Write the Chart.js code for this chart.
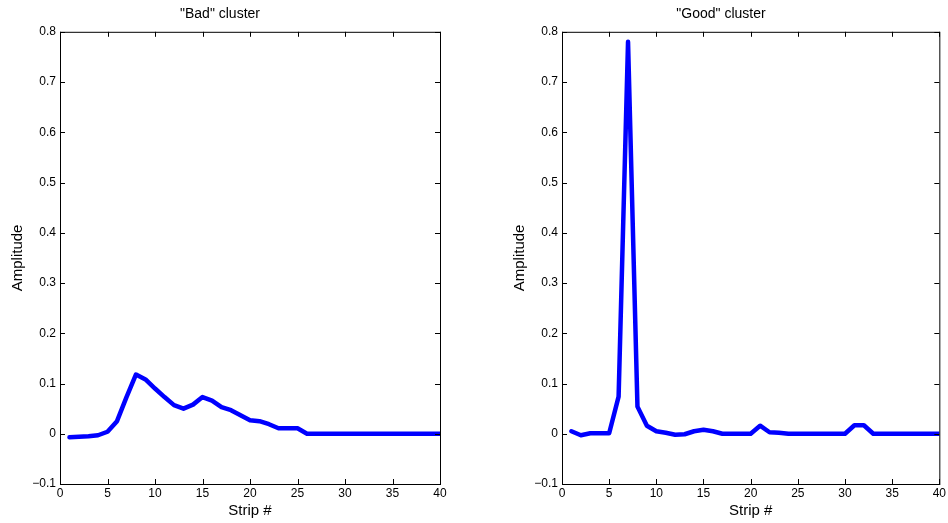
<!DOCTYPE html>
<html>
<head>
<meta charset="utf-8">
<script src="https://cdn.jsdelivr.net/npm/chart.js@4"></script>
<style>
  body { margin: 0; background: #fff; }
  .panel { position: absolute; top: 0; width: 474px; height: 523px; }
</style>
</head>
<body>
<div class="panel" style="left:0"><canvas id="badChart"></canvas></div>
<div class="panel" style="left:474px"><canvas id="goodChart"></canvas></div>
<script>
// strip numbers 1..40
const strips = [1,2,3,4,5,6,7,8,9,10,11,12,13,14,15,16,17,18,19,20,
                21,22,23,24,25,26,27,28,29,30,31,32,33,34,35,36,37,38,39,40];

const badAmplitude = [-0.007,-0.006,-0.005,-0.003,0.004,0.025,0.073,0.118,0.108,0.090,
                      0.073,0.057,0.050,0.058,0.073,0.066,0.053,0.047,0.037,0.027,
                      0.025,0.019,0.011,0.011,0.011,0,0,0,0,0,
                      0,0,0,0,0,0,0,0,0,0];

const goodAmplitude = [0.005,-0.003,0.001,0.001,0.001,0.074,0.780,0.054,0.016,0.005,
                       0.002,-0.002,-0.001,0.005,0.008,0.005,0,0,0,0,
                       0.016,0.003,0.002,0,0,0,0,0,0,0,
                       0.017,0.017,0,0,0,0,0,0,0,0];

const xTicks = [0,5,10,15,20,25,30,35,40];
const yTicks = [-0.1,0,0.1,0.2,0.3,0.4,0.5,0.6,0.7,0.8];

const FONT = "'Liberation Sans', Arial, sans-serif";

// MATLAB style frame with inward ticks on all four sides
const framePlugin = {
  id: 'frame',
  afterDraw(chart) {
    const {ctx, chartArea: a, scales: {x, y}} = chart;
    ctx.save();
    ctx.strokeStyle = '#000';
    ctx.lineWidth = 1;
    ctx.strokeRect(a.left + 0.5, a.top + 0.5, a.right - a.left, a.bottom - a.top);
    ctx.beginPath();
    const len = 5;
    x.ticks.forEach(t => {
      const px = Math.round(x.getPixelForValue(t.value)) + 0.5;
      ctx.moveTo(px, a.bottom); ctx.lineTo(px, a.bottom - len);
      ctx.moveTo(px, a.top); ctx.lineTo(px, a.top + len);
    });
    y.ticks.forEach(t => {
      const py = Math.round(y.getPixelForValue(t.value)) + 0.5;
      ctx.moveTo(a.left, py); ctx.lineTo(a.left + len, py);
      ctx.moveTo(a.right, py); ctx.lineTo(a.right - len, py);
    });
    ctx.stroke();
    ctx.restore();
  }
};

function makeChart(id, title, values, padLeft, padRight) {
  new Chart(document.getElementById(id), {
    type: 'line',
    data: {
      datasets: [{
        data: strips.map((s, i) => ({x: s, y: values[i]})),
        borderColor: '#0000ff',
        borderWidth: 4.5,
        borderCapStyle: 'round',
        borderJoinStyle: 'round',
        pointRadius: 0,
        tension: 0,
        fill: false
      }]
    },
    options: {
      responsive: false,
      animation: false,
      devicePixelRatio: 1,
      layout: {padding: {left: padLeft, right: padRight, top: 0, bottom: 0}},
      plugins: {
        legend: {display: false},
        tooltip: {enabled: false},
        title: {
          display: true,
          text: title,
          color: '#000',
          font: {family: FONT, size: 14, weight: 'normal'},
          padding: {top: 6, bottom: 9}
        }
      },
      scales: {
        x: {
          type: 'linear',
          min: 0, max: 40,
          afterBuildTicks: s => { s.ticks = xTicks.map(v => ({value: v})); },
          afterFit: s => { s.height = 39; },
          grid: {display: false, drawTicks: false, tickLength: 0},
          border: {display: false},
          ticks: {color: '#000', font: {family: FONT, size: 12}, padding: 2, maxRotation: 0},
          title: {display: true, text: 'Strip #', color: '#000',
                  font: {family: FONT, size: 15}, padding: {top: 0, bottom: 3}}
        },
        y: {
          type: 'linear',
          min: -0.1, max: 0.8,
          afterBuildTicks: s => { s.ticks = yTicks.map(v => ({value: v})); },
          afterFit: s => { s.width = 60; },
          grid: {display: false, drawTicks: false, tickLength: 0},
          border: {display: false},
          ticks: {
            color: '#000', font: {family: FONT, size: 12}, padding: 4,
            callback: v => {
              const r = Math.round(v * 10) / 10;
              return r < 0 ? '\u2212' + Math.abs(r) : String(r);
            }
          },
          title: {display: true, text: 'Amplitude', color: '#000',
                  font: {family: FONT, size: 15}, padding: {top: 9, bottom: 0}}
        }
      }
    },
    plugins: [framePlugin]
  });
}

document.getElementById('badChart').width = 474;
document.getElementById('badChart').height = 523;
document.getElementById('goodChart').width = 474;
document.getElementById('goodChart').height = 523;

makeChart('badChart', '"Bad" cluster', badAmplitude, 0, 34);
makeChart('goodChart', '"Good" cluster', goodAmplitude, 28, 8);
</script>
</body>
</html>
